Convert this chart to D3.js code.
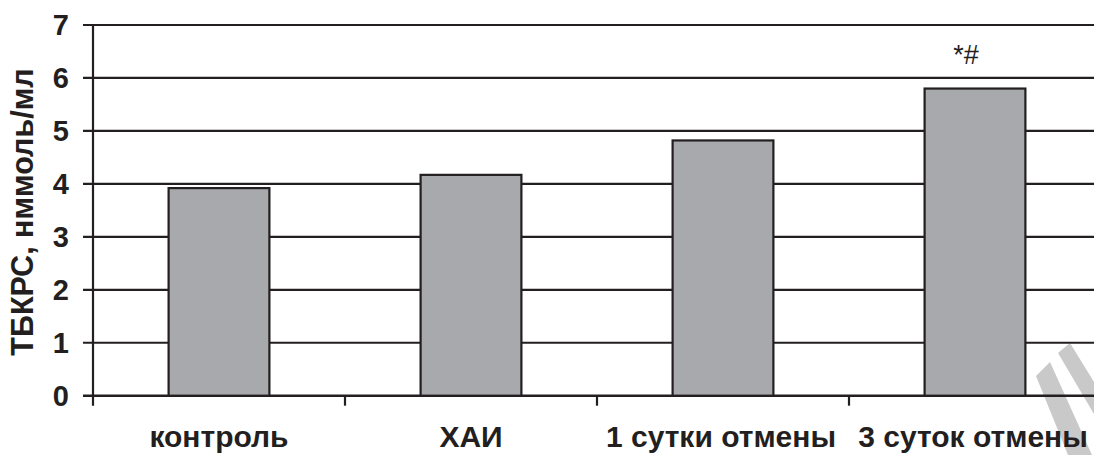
<!DOCTYPE html>
<html>
<head>
<meta charset="utf-8">
<script src="https://cdn.jsdelivr.net/npm/d3@7"></script>
<style>
  html, body { margin: 0; padding: 0; background: #fff; }
  svg { display: block; }
  text { font-family: "Liberation Sans", Arial, sans-serif; fill: #231f20; }
</style>
</head>
<body>
<svg id="chart" width="1094" height="455"></svg>
<script>
// Groups and mean TBARS level (nmol/ml)
const categories = ["контроль", "ХАИ", "1 сутки отмены", "3 суток отмены"];
const values = [3.92, 4.17, 4.82, 5.80];
const marks = ["", "", "", "*#"];
const yTicks = [0, 1, 2, 3, 4, 5, 6, 7];
const yTitle = "ТБКРС, нммоль/мл";

const svg = d3.select("#chart");
const W = 1094, H = 455;
const ink = "#231f20";

const x0 = 93, step = 252;
const x = d3.scaleBand()
  .domain(categories)
  .range([x0, x0 + step * categories.length])
  .padding(0);
const y = d3.scaleLinear().domain([0, 7]).range([395.7, 25]);

const barW = x.bandwidth() * 0.4;

// faint watermark in the lower right corner, behind everything
const wm = svg.append("g").attr("fill", "#c9c9c9");
wm.append("polygon").attr("points", "1036,376 1050,362 1092,455 1068,455");
wm.append("polygon").attr("points", "1058,353 1070,343 1094,382 1094,414");

// horizontal gridlines (also carry the left tick marks)
svg.append("g")
  .selectAll("line")
  .data(yTicks)
  .join("line")
  .attr("x1", x0 - 10)
  .attr("x2", W)
  .attr("y1", d => y(d))
  .attr("y2", d => y(d))
  .attr("stroke", ink)
  .attr("stroke-width", d => d === 0 ? 2.6 : 2.2);

// y axis line
svg.append("line")
  .attr("x1", x0).attr("x2", x0)
  .attr("y1", y(7) - 1).attr("y2", y(0) + 10)
  .attr("stroke", ink).attr("stroke-width", 2.2);

// category separator ticks below the baseline
svg.append("g")
  .selectAll("line")
  .data(categories.slice(1))
  .join("line")
  .attr("x1", d => x(d)).attr("x2", d => x(d))
  .attr("y1", y(0)).attr("y2", y(0) + 10)
  .attr("stroke", ink).attr("stroke-width", 2.2);

// bars
svg.append("g")
  .selectAll("rect")
  .data(categories)
  .join("rect")
  .attr("x", d => x(d) + (x.bandwidth() - barW) / 2)
  .attr("width", barW)
  .attr("y", (d, i) => y(values[i]))
  .attr("height", (d, i) => y(0) - y(values[i]))
  .attr("fill", "#a7a9ac")
  .attr("stroke", ink)
  .attr("stroke-width", 2.2);

// significance marks above bars
svg.append("g")
  .selectAll("text")
  .data(categories)
  .join("text")
  .attr("x", d => x(d) + x.bandwidth() / 2 - 9)
  .attr("y", (d, i) => y(values[i]) - 25)
  .attr("text-anchor", "middle")
  .attr("font-size", 27)
  .text((d, i) => marks[i]);

// y tick labels
svg.append("g")
  .selectAll("text")
  .data(yTicks)
  .join("text")
  .attr("x", 69)
  .attr("y", d => y(d))
  .attr("dy", "0.36em")
  .attr("text-anchor", "end")
  .attr("font-size", 29)
  .attr("font-weight", "bold")
  .text(d => d);

// category labels
svg.append("g")
  .selectAll("text")
  .data(categories)
  .join("text")
  .attr("x", (d, i) => x(d) + x.bandwidth() / 2 - (i >= 2 ? 2 : 0))
  .attr("y", 447)
  .attr("text-anchor", "middle")
  .attr("font-size", 30)
  .attr("font-weight", "bold")
  .text(d => d);

// y axis title
svg.append("text")
  .attr("transform", "translate(33,212) rotate(-90)")
  .attr("text-anchor", "middle")
  .attr("font-size", 30.5)
  .attr("font-weight", "bold")
  .text(yTitle);
</script>
</body>
</html>
